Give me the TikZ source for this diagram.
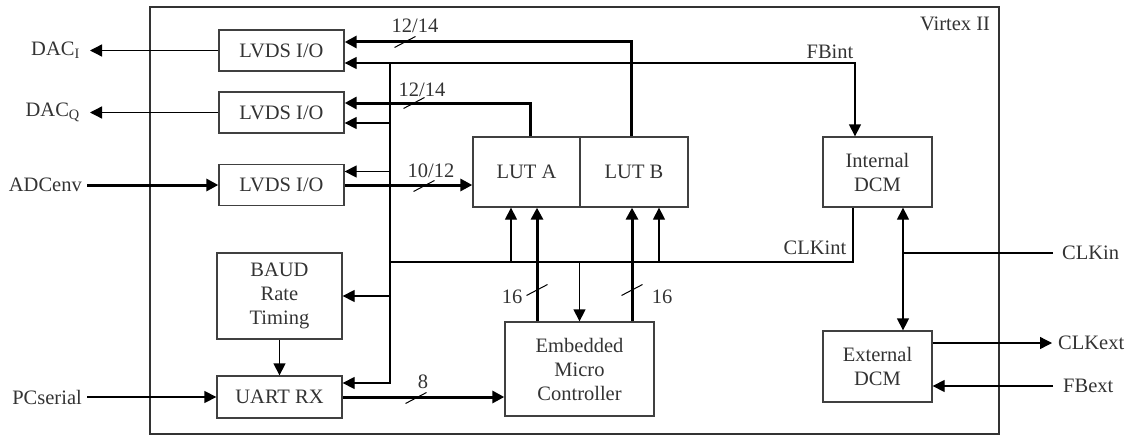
\documentclass[tikz,border=0pt]{standalone}
\usepackage{fontspec}
\setmainfont{Liberation Serif}
\usetikzlibrary{arrows.meta,calc}
\begin{document}
\begin{tikzpicture}[x=1pt,y=-1pt,
  font=\fontsize{20.5}{24}\selectfont,
  every node/.style={text=black!80},
  blk/.style={draw=black!75, line width=1.3pt, inner sep=0pt, align=center},
  tline/.style={line width=1.3pt},
  tarrow/.style={line width=1.3pt, -{Triangle[length=12pt,width=12pt]}},
  barrow/.style={line width=3pt, -{Triangle[length=12pt,width=12pt]}},
  darrow/.style={line width=1.3pt, {Triangle[length=12pt,width=12pt]}-{Triangle[length=12pt,width=12pt]}},
  wlbl/.style={inner sep=0pt},
  slash/.style={line width=1pt},
  ]
\useasboundingbox (0,0) rectangle (1131,436);

% outer FPGA box
\node[draw=black!80, line width=1.4pt, minimum width=849pt, minimum height=427pt, inner sep=0pt] (vtx) at (574.5,220.5) {};
\node[wlbl] (vl) at (955,24) {Virtex II};

% blocks
\node[blk, minimum width=125pt, minimum height=41pt] (lv1) at (281.5,50.5) {LVDS I/O};
\node[blk, minimum width=125pt, minimum height=41pt] (lv2) at (281.5,112.5) {LVDS I/O};
\node[blk, minimum width=125pt, minimum height=41pt] (lv3) at (281.5,185) {LVDS I/O};
\node[blk, minimum width=107pt, minimum height=70pt] (luta) at (526.5,172) {LUT A};
\node[blk, minimum width=108pt, minimum height=70pt] (lutb) at (634,172) {LUT B};
\node[blk, minimum width=125pt, minimum height=86pt] (baud) at (279.5,296) {BAUD\\Rate\\Timing};
\node[blk, minimum width=125pt, minimum height=42pt] (uart) at (279.5,397) {UART RX};
\node[blk, minimum width=149pt, minimum height=94pt] (mc) at (579.5,369) {Embedded\\Micro\\Controller};
\node[blk, minimum width=109pt, minimum height=70pt] (idcm) at (877.5,172) {Internal\\DCM};
\node[blk, minimum width=109pt, minimum height=71pt] (edcm) at (877.5,366.5) {External\\DCM};

% external labels
\node[anchor=east, inner xsep=10pt] (daci) at (90,50.5) {DAC\textsubscript{I}};
\node[anchor=east, inner xsep=10pt] (dacq) at (90,112.5) {DAC\textsubscript{Q}};
\node[anchor=east, inner xsep=5pt] (adc) at (87,185) {ADCenv};
\node[anchor=east, inner xsep=5pt] (pcs) at (87,397) {PCserial};
\node[anchor=west, inner xsep=9pt] (clkin) at (1053,253) {CLKin};
\node[anchor=west, inner xsep=6pt] (clkext) at (1052,343) {CLKext};
\node[anchor=west, inner xsep=10pt] (fbext) at (1053,386) {FBext};

% internal labels
\node[wlbl] (fbint) at (830,52) {FBint};
\node[wlbl] (clkint) at (815,248) {CLKint};
\node[wlbl] (w1) at (415,26) {12/14};
\node[wlbl] (w2) at (422,90) {12/14};
\node[wlbl] (w3) at (431,171) {10/12};
\node[wlbl] (w4) at (423,382) {8};
\node[wlbl] (w5) at (512,297) {16};
\node[wlbl] (w6) at (662,297) {16};

% junctions
\coordinate (j1) at (390,63);
\coordinate (j2) at (390,262);

% DAC outputs
\draw[tarrow] (lv1.west) -- (daci.east);
\draw[tarrow] (lv2.west) -- (dacq.east);

% ADC input
\draw[barrow] (adc.east) -- (lv3.west);

% LUT B -> LVDS1, LUT A -> LVDS2
\coordinate (lbtop) at ([xshift=-3pt]lutb.north);
\coordinate (lv1a) at ([yshift=8.5pt]lv1.east);
\draw[barrow] (lbtop) |- (lv1a);
\coordinate (latop) at ([xshift=3.5pt]luta.north);
\coordinate (lv2a) at ([yshift=9.5pt]lv2.east);
\draw[barrow] (latop) |- (lv2a);

% LVDS3 -> LUT A
\draw[barrow] (lv3.east) -- (lv3.east -| luta.west);

% clock / feedback network
\draw[tarrow] (j1) -| ([xshift=-22.5pt]idcm.north);
\draw[tarrow] (j1) -- (j1 -| lv1.east);
\draw[tline] ([xshift=-24.5pt]idcm.south) |- (j2);
\coordinate (uin) at ([yshift=14pt]uart.east);
\draw[tarrow] (j1) |- (uin);
\coordinate (lv2b) at ([yshift=-10.5pt]lv2.east);
\draw[tarrow] (lv2b -| j1) -- (lv2b);
\coordinate (lv3b) at ([yshift=13.5pt]lv3.east);
\draw[tarrow] (lv3b -| j1) -- (lv3b);
\draw[tarrow] (baud.east -| j1) -- (baud.east);

% clock to LUTs and MC
\coordinate (la1) at ([xshift=-15.5pt]luta.south);
\coordinate (lb2) at ([xshift=25pt]lutb.south);
\draw[tarrow] (la1 |- j2) -- (la1);
\draw[tarrow] (lb2 |- j2) -- (lb2);
\draw[tarrow] (mc.north |- j2) -- (mc.north);

% MC -> LUTs
\coordinate (la2) at ([xshift=10.5pt]luta.south);
\coordinate (lb1) at ([xshift=-2pt]lutb.south);
\draw[barrow] (la2 |- mc.north) -- (la2);
\draw[barrow] (lb1 |- mc.north) -- (lb1);

% UART
\draw[tarrow] (pcs.east) -- (uart.west);
\draw[tarrow] (baud.south) -- (uart.north);
\draw[barrow] (uart.east) -- (uart.east -| mc.west);

% DCMs
\coordinate (d1) at ([xshift=25.5pt]idcm.south);
\draw[darrow] (d1) -- (d1 |- edcm.north);
\draw[tline] (clkin.west) -- (clkin.west -| d1);
\coordinate (ce) at ([yshift=23.5pt]edcm.east);
\draw[tarrow] (ce) -- (clkext.west);
\coordinate (fe) at ([yshift=-19.5pt]edcm.east);
\draw[tarrow] (fbext.west) -- (fe);

% bus width slashes
\draw[slash] (405,42) +(-10.5,5.5) -- +(10.5,-5.5);
\draw[slash] (414,103) +(-10.5,5.5) -- +(10.5,-5.5);
\draw[slash] (424,186) +(-10.5,5.5) -- +(10.5,-5.5);
\draw[slash] (416,398) +(-10.5,5.5) -- +(10.5,-5.5);
\draw[slash] (537,290) +(-10.5,5.5) -- +(10.5,-5.5);
\draw[slash] (632,290) +(-10.5,5.5) -- +(10.5,-5.5);
\end{tikzpicture}
\end{document}
